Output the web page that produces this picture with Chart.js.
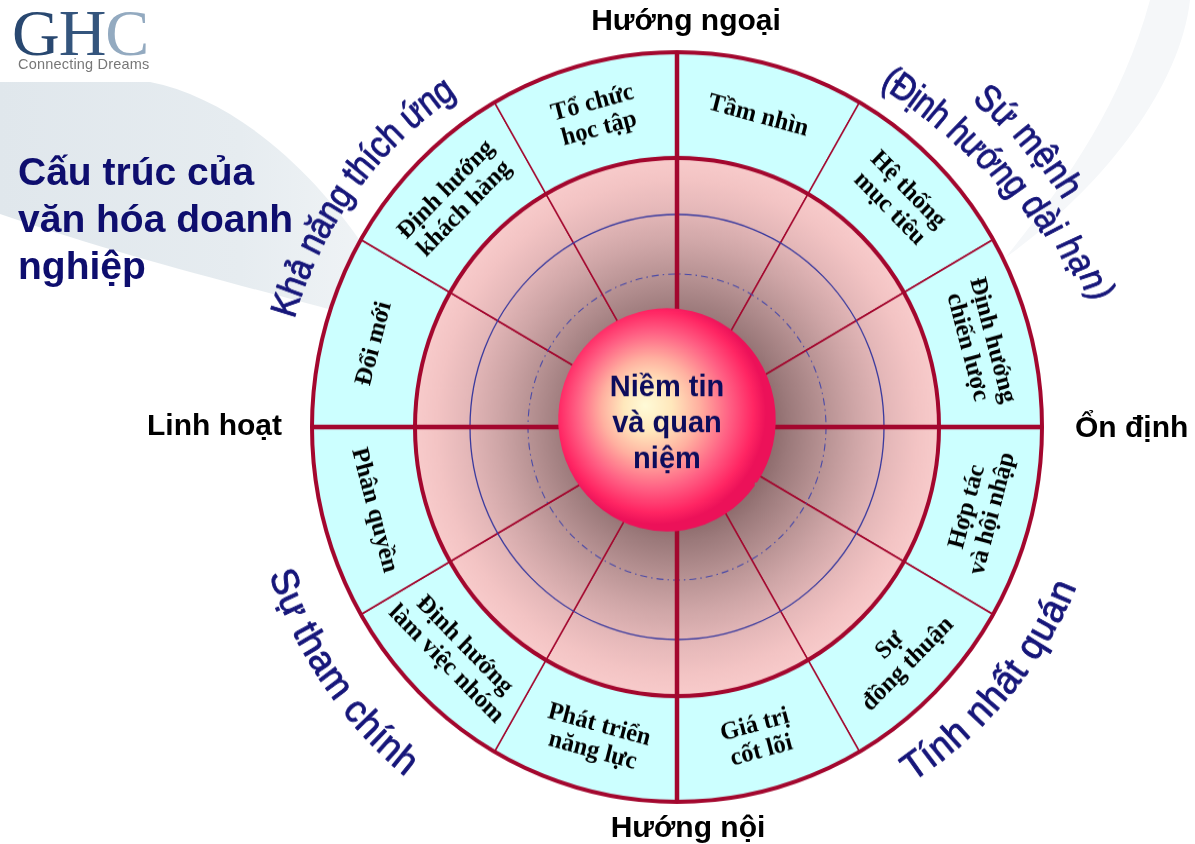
<!DOCTYPE html>
<html>
<head>
<meta charset="utf-8">
<script src="https://cdn.jsdelivr.net/npm/chart.js@4"></script>
<style>
  body { margin: 0; width: 1195px; height: 844px; overflow: hidden; background: #fff; position: relative; font-family: "Liberation Sans", Arial, sans-serif; }
  #swoosh { position: absolute; left: 0; top: 0; z-index: 0; }
  #wrap { position: absolute; left: 0; top: 0; width: 1195px; height: 844px; z-index: 1; transform: scaleY(1.027); transform-origin: 0 427px; }
  .logo { position: absolute; left: 12px; top: 0px; z-index: 2; font-family: "Liberation Serif", serif; font-size: 66px; line-height: 66px; letter-spacing: -1px; }
  .logo .g { color: #294870; }
  .logo .h { color: #34557d; }
  .logo .c { color: #93aac0; }
  .tag { position: absolute; left: 18px; top: 56px; z-index: 2; font-size: 14.5px; color: #777; letter-spacing: 0.2px; }
  .title { position: absolute; left: 18px; top: 148px; z-index: 2; font-weight: bold; font-size: 39px; line-height: 47px; color: #0e0e6e; }
  .axis { position: absolute; z-index: 2; font-weight: bold; font-size: 30px; line-height: 30px; color: #000; white-space: nowrap; }
</style>
</head>
<body>
<svg id="swoosh" width="1195" height="844">
  <defs>
    <linearGradient id="sw" x1="0" y1="0" x2="400" y2="0" gradientUnits="userSpaceOnUse">
      <stop offset="0" stop-color="#e0e7ec"/>
      <stop offset="0.6" stop-color="#e6ecf0"/>
      <stop offset="1" stop-color="#f2f5f7"/>
    </linearGradient>
  </defs>
  <path d="M0,82 L150,82 C232,98 318,170 378,268 L372,322 C290,296 150,266 0,214 Z" fill="url(#sw)"/>
  <path d="M1190,0 C1180,90 1100,190 1005,258 C1060,190 1120,110 1150,0 Z" fill="#f5f7f9"/>
</svg>
<div id="wrap"><canvas id="denison" width="1195" height="844"></canvas></div>
<div class="logo"><span class="g">G</span><span class="h">H</span><span class="c">C</span></div>
<div class="tag">Connecting Dreams</div>
<div class="title">Cấu trúc của<br>văn hóa doanh<br>nghiệp</div>
<script>
// Outer ring, clockwise from the top
var segmentLabels = [
    ['Tầm nhìn'], ['Hệ thống', 'mục tiêu'], ['Định hướng', 'chiến lược'],
    ['Hợp tác', 'và hội nhập'], ['Sự', 'đồng thuận'], ['Giá trị', 'cốt lõi'],
    ['Phát triển', 'năng lực'], ['Định hướng', 'làm việc nhóm'], ['Phân quyền'],
    ['Đổi mới'], ['Định hướng', 'khách hàng'], ['Tổ chức', 'học tập']
];
var practiceRing = [1, 1, 1, 1, 1, 1, 1, 1, 1, 1, 1, 1];
var traitRing = [1, 1, 1, 1, 1, 1, 1, 1, 1, 1, 1, 1];
var coreRing = [1];
var coreLabel = ['Niềm tin', 'và quan', 'niệm'];
var traitLabels = [['Sứ mệnh', '(Định hướng dài hạn)'], ['Tính nhất quán'], ['Sự tham chính'], ['Khả năng thích ứng']];
var axisLabels = ['Hướng ngoại', 'Ổn định', 'Hướng nội', 'Linh hoạt'];

// where the curved trait texts sit (angles in degrees, canvas direction)
var traitLayout = [
    [{ a0: -45.8, a1: -30.9, r0: 444, r1: 455, out: true, size: 37, sx: 0.88 },
     { a0: -57.8, a1: -17.1, r0: 399, rm: 408, r1: 443, out: true, size: 37, sx: 0.86 }],
    [{ a0: 54.2, a1: 22.6, r0: 408, r1: 418, out: false, size: 38, sx: 0.96 }],
    [{ a0: 159, a1: 129.9, r0: 422, r1: 425, out: false, size: 38, sx: 0.95 }],
    [{ a0: -163.1, a1: -125.6, r0: 407, r1: 401, out: true, size: 37, sx: 0.88 }]
];
var axisPos = [
    { left: 536, top: 5, width: 300, align: 'center' },
    { left: 1075, top: 412, width: 120, align: 'left' },
    { left: 538, top: 812, width: 300, align: 'center' },
    { left: 82, top: 410, width: 200, align: 'right' }
];

axisLabels.forEach(function (t, i) {
    var d = document.createElement('div');
    d.className = 'axis';
    d.textContent = t;
    d.style.left = axisPos[i].left + 'px';
    d.style.top = axisPos[i].top + 'px';
    d.style.width = axisPos[i].width + 'px';
    d.style.textAlign = axisPos[i].align;
    document.body.appendChild(d);
});

var CRIMSON = '#a3072e';

function centre(chart) {
    var a = chart.chartArea;
    return { x: (a.left + a.right) / 2, y: (a.top + a.bottom) / 2 };
}

// core gradient, shared by fill and border so the offset seam disappears
function coreGradient(c) {
    var ch = c.chart;
    if (!ch.chartArea) return '#ff4070';
    var p = centre(ch);
    var g = ch.ctx.createRadialGradient(p.x - 22, p.y - 14, 0, p.x - 10, p.y - 7, 109);
    g.addColorStop(0, '#fffbd8');
    g.addColorStop(0.22, '#ffe8bc');
    g.addColorStop(0.45, '#ffb0a0');
    g.addColorStop(0.7, '#ff6084');
    g.addColorStop(0.9, '#ff2563');
    g.addColorStop(1, '#ec1159');
    return g;
}

function drawTrait(ctx, cx, cy, text, L) {
    ctx.font = L.size + 'px "Liberation Sans", Arial, sans-serif';
    var chars = Array.from(text.normalize('NFC'));
    var w = chars.map(function (ch) { return ctx.measureText(ch).width; });
    var total = w.reduce(function (s, v) { return s + v; }, 0);
    var span = total - w[0] / 2 - w[w.length - 1] / 2;
    var acc = 0;
    chars.forEach(function (ch, i) {
        var pos = acc + w[i] / 2 - w[0] / 2;
        acc += w[i];
        var f = span ? pos / span : 0;
        var a = (L.a0 + (L.a1 - L.a0) * f) * Math.PI / 180;
        var r;
        if (L.rm !== undefined) {
            r = L.r0 * 2 * (f - 0.5) * (f - 1) - L.rm * 4 * f * (f - 1) + L.r1 * 2 * f * (f - 0.5);
        } else {
            r = L.r0 + (L.r1 - L.r0) * f;
        }
        ctx.save();
        ctx.translate(cx + r * Math.cos(a), cy + r * Math.sin(a));
        ctx.rotate(a + (L.out ? 1 : -1) * Math.PI / 2);
        ctx.scale(L.sx, 1);
        ctx.fillText(ch, 0, 0);
        ctx.strokeText(ch, 0, 0);
        ctx.restore();
    });
}

var decor = {
    id: 'decor',
    beforeDatasetDraw: function (chart, args) {
        if (args.index !== 2) return;
        var ctx = chart.ctx;
        var outer = chart.getDatasetMeta(0).data;
        var inner = chart.getDatasetMeta(1).data;
        var cx = inner[0].x, cy = inner[0].y;
        var R = outer[0].outerRadius, Rm = inner[0].outerRadius, Ri = inner[0].innerRadius;
        ctx.save();
        ctx.strokeStyle = '#3a3a9e';
        ctx.lineWidth = 1.3;
        ctx.beginPath(); ctx.arc(cx, cy, 207, 0, 2 * Math.PI); ctx.stroke();
        ctx.setLineDash([7, 4, 1.5, 4]);
        ctx.strokeStyle = '#4a4aa8';
        ctx.lineWidth = 1.1;
        ctx.beginPath(); ctx.arc(cx, cy, 149, 0, 2 * Math.PI); ctx.stroke();
        ctx.setLineDash([]);
        // quadrant axes
        ctx.strokeStyle = CRIMSON;
        ctx.lineWidth = 4.5;
        inner.forEach(function (arc, i) {
            if (i % 3) return;
            var a = arc.startAngle;
            ctx.beginPath();
            ctx.moveTo(cx + Ri * Math.cos(a), cy + Ri * Math.sin(a));
            ctx.lineTo(cx + R * Math.cos(a), cy + R * Math.sin(a));
            ctx.stroke();
        });
        ctx.lineWidth = 4;
        ctx.beginPath(); ctx.arc(cx, cy, Rm, 0, 2 * Math.PI); ctx.stroke();
        ctx.beginPath(); ctx.arc(cx, cy, R, 0, 2 * Math.PI); ctx.stroke();
        ctx.restore();
    },
    afterDatasetsDraw: function (chart) {
        var ctx = chart.ctx;
        var outer = chart.getDatasetMeta(0).data;
        var core = chart.getDatasetMeta(2).data[0];
        var cx = outer[0].x, cy = outer[0].y;
        ctx.save();
        ctx.fillStyle = '#000';
        ctx.textAlign = 'center';
        ctx.textBaseline = 'middle';
        ctx.font = 'bold 24.5px "Liberation Serif", "Times New Roman", serif';
        outer.forEach(function (arc, i) {
            var mid = (arc.startAngle + arc.endAngle) / 2;
            var r = (arc.innerRadius + arc.outerRadius) / 2;
            var s = Math.sin(mid);
            var rot = s < 0 ? mid + Math.PI / 2 : mid - Math.PI / 2;
            var lines = segmentLabels[i];
            ctx.save();
            ctx.translate(cx + r * Math.cos(mid), cy + r * Math.sin(mid));
            ctx.rotate(rot);
            lines.forEach(function (t, j) {
                ctx.fillText(t, 0, (j - (lines.length - 1) / 2) * 26);
            });
            ctx.restore();
        });

        // core text
        var half = (core.startAngle + core.endAngle) / 2;
        var off = core.options.offset / 4;
        var kx = cx + Math.cos(half) * off, ky = cy + Math.sin(half) * off;
        ctx.fillStyle = '#0c0c5c';
        ctx.textBaseline = 'alphabetic';
        ctx.font = 'bold 29px "Liberation Sans", Arial, sans-serif';
        coreLabel.forEach(function (t, j) {
            ctx.fillText(t, kx, ky - 23 + j * 35);
        });

        // curved trait labels
        ctx.fillStyle = '#16167a';
        ctx.strokeStyle = '#16167a';
        ctx.lineWidth = 0.9;
        ctx.lineJoin = 'round';
        ctx.textBaseline = 'middle';
        traitLabels.forEach(function (lines, i) {
            lines.forEach(function (t, j) {
                drawTrait(ctx, cx, cy, t, traitLayout[i][j]);
            });
        });
        ctx.restore();
    }
};

var ctx = document.getElementById('denison').getContext('2d');

var chart = new Chart(ctx, {
    type: 'doughnut',
    data: {
        labels: segmentLabels.map(function (l) { return l.join(' '); }),
        datasets: [
            {
                label: 'Thực tiễn',
                data: practiceRing,
                weight: 103,
                backgroundColor: '#ccffff',
                borderColor: CRIMSON,
                borderWidth: 1.5
            },
            {
                label: 'Đặc điểm',
                data: traitRing,
                weight: 168,
                backgroundColor: function (c) {
                    var ch = c.chart;
                    if (!ch.chartArea) return '#f8caca';
                    var p = centre(ch);
                    var g = ch.ctx.createRadialGradient(p.x, p.y, 96, p.x, p.y, 262);
                    g.addColorStop(0, '#8e6c6d');
                    g.addColorStop(0.1, '#9c7a7b');
                    g.addColorStop(0.3, '#b69192');
                    g.addColorStop(0.5, '#cfa6a7');
                    g.addColorStop(0.7, '#e5b8b9');
                    g.addColorStop(0.87, '#f3c4c4');
                    g.addColorStop(1, '#f8cbcb');
                    return g;
                },
                borderColor: CRIMSON,
                borderWidth: 1.5
            },
            {
                label: 'Cốt lõi',
                data: coreRing,
                weight: 94,
                rotation: 125,
                offset: 49,
                order: -1,
                borderWidth: 5,
                borderColor: coreGradient,
                backgroundColor: coreGradient
            }
        ]
    },
    options: {
        responsive: false,
        animation: false,
        events: [],
        radius: 365,
        cutout: 0,
        layout: { padding: { left: 311, right: 152, top: 61, bottom: 51 } },
        plugins: {
            legend: { display: false },
            tooltip: { enabled: false }
        }
    },
    plugins: [decor]
});
</script>
</body>
</html>
